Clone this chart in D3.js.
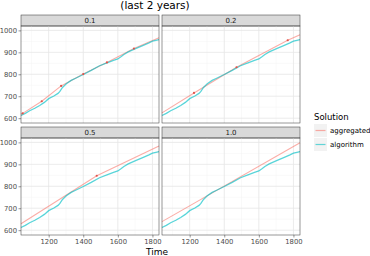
<!DOCTYPE html>
<html>
<head>
<meta charset="utf-8">
<script src="https://cdn.jsdelivr.net/npm/d3@7"></script>
<style>
  body { margin: 0; background: #fff; }
  text { font-family: "DejaVu Sans", sans-serif; }
</style>
</head>
<body>
<div id="chart"></div>
<script>
const facets = ["0.1", "0.2", "0.5", "1.0"];

// algorithm curve (same in every facet)
const algoTime  = [1040, 1065, 1090, 1120, 1148, 1175, 1200, 1230, 1254, 1265, 1280, 1302, 1330, 1356, 1400, 1446, 1494, 1537, 1575, 1600, 1618, 1635, 1660, 1706, 1754, 1780, 1800, 1820, 1838];
const algoValue = [612, 622, 634, 645, 658, 672, 689, 701, 713, 722, 740, 757, 772, 782, 799, 818, 839, 852, 863, 870, 880, 890, 902, 918, 934, 943, 951, 955, 958];

// aggregated lines per facet
const aggTime = {
  "0.1": [1040, 1050, 1160, 1272, 1400, 1537, 1693, 1838],
  "0.2": [1040, 1225, 1471, 1767, 1838],
  "0.5": [1040, 1478, 1838],
  "1.0": [1040, 1838]
};
const aggValue = {
  "0.1": [618, 622, 677, 747, 801, 854, 917, 966],
  "0.2": [624, 715, 832, 955, 980],
  "0.5": [629, 848, 983],
  "1.0": [639, 998]
};
// points shown on the aggregated lines
const dotTime = {
  "0.1": [1050, 1160, 1272, 1400, 1537, 1693],
  "0.2": [1225, 1471, 1767],
  "0.5": [1478],
  "1.0": []
};

const xTicks = [1200, 1400, 1600, 1800];
const xMinor = [1100, 1300, 1500, 1700];
const yTicks = [600, 700, 800, 900, 1000];
const yMinor = [650, 750, 850, 950];

const seriesNames = ["aggregated", "algorithm"];
const seriesColors = { aggregated: "#F8766D", algorithm: "#00BFC4" };

const width = 370, height = 256;
const panelW = 138, panelH = 97, stripH = 11;
const colX = [21, 162];
const rowY = [15, 127];

const svg = d3.select("#chart").append("svg")
  .attr("width", width)
  .attr("height", height);

svg.append("text")
  .attr("x", 155)
  .attr("y", 9)
  .attr("text-anchor", "middle")
  .style("font-size", "10.5px")
  .attr("fill", "#000")
  .text("(last 2 years)");

const x = d3.scaleLinear().domain([1040, 1838]).range([0, panelW]);
const y = d3.scaleLinear().domain([578, 1020]).range([panelH, 0]);

const line = d3.line().x(d => x(d[0])).y(d => y(d[1]));

facets.forEach((f, i) => {
  const col = i % 2, row = Math.floor(i / 2);
  const g = svg.append("g")
    .attr("transform", `translate(${colX[col]},${rowY[row]})`);

  // strip
  g.append("rect")
    .attr("width", panelW).attr("height", stripH)
    .attr("fill", "#D9D9D9")
    .attr("stroke", "#333").attr("stroke-width", 0.5);
  g.append("text")
    .attr("x", panelW / 2).attr("y", stripH / 2 + 2.5)
    .attr("text-anchor", "middle")
    .style("font-size", "7px")
    .attr("fill", "#1A1A1A")
    .text(f);

  const p = g.append("g").attr("transform", `translate(0,${stripH})`);

  // grid
  p.selectAll(".gx2").data(xMinor).enter().append("line")
    .attr("x1", d => x(d)).attr("x2", d => x(d))
    .attr("y1", 0).attr("y2", panelH)
    .attr("stroke", "#F3F3F3").attr("stroke-width", 0.5);
  p.selectAll(".gy2").data(yMinor).enter().append("line")
    .attr("y1", d => y(d)).attr("y2", d => y(d))
    .attr("x1", 0).attr("x2", panelW)
    .attr("stroke", "#F3F3F3").attr("stroke-width", 0.5);
  p.selectAll(".gx").data(xTicks).enter().append("line")
    .attr("x1", d => x(d)).attr("x2", d => x(d))
    .attr("y1", 0).attr("y2", panelH)
    .attr("stroke", "#E6E6E6").attr("stroke-width", 0.8);
  p.selectAll(".gy").data(yTicks).enter().append("line")
    .attr("y1", d => y(d)).attr("y2", d => y(d))
    .attr("x1", 0).attr("x2", panelW)
    .attr("stroke", "#E6E6E6").attr("stroke-width", 0.8);

  // lines
  const aggPts = d3.zip(aggTime[f], aggValue[f]);
  const algoPts = d3.zip(algoTime, algoValue);

  p.append("path").datum(aggPts)
    .attr("d", line)
    .attr("fill", "none")
    .attr("stroke", seriesColors.aggregated)
    .attr("stroke-opacity", 0.6)
    .attr("stroke-width", 1.1);

  p.append("path").datum(algoPts)
    .attr("d", line)
    .attr("fill", "none")
    .attr("stroke", seriesColors.algorithm)
    .attr("stroke-opacity", 0.65)
    .attr("stroke-width", 1.3);

  const interp = d3.scaleLinear().domain(aggTime[f]).range(aggValue[f]);
  p.selectAll(".dot").data(dotTime[f]).enter().append("circle")
    .attr("cx", d => x(d)).attr("cy", d => y(interp(d)))
    .attr("r", 1.1)
    .attr("fill", "#E0524A");

  // border
  p.append("rect")
    .attr("width", panelW).attr("height", panelH)
    .attr("fill", "none")
    .attr("stroke", "#333").attr("stroke-width", 0.5);

  // axes
  if (col === 0) {
    const ay = p.append("g")
      .call(d3.axisLeft(y).tickValues(yTicks).tickFormat(d3.format("d")).tickSize(2.5).tickPadding(1.5));
    ay.select(".domain").remove();
    ay.selectAll("line").attr("stroke", "#333").attr("stroke-width", 0.5);
    ay.selectAll("text").style("font-size", "6.8px").attr("fill", "#4D4D4D");
  }
  if (row === 1) {
    const ax = p.append("g")
      .attr("transform", `translate(0,${panelH})`)
      .call(d3.axisBottom(x).tickValues(xTicks).tickFormat(d3.format("d")).tickSize(2.5).tickPadding(1.5));
    ax.select(".domain").remove();
    ax.selectAll("line").attr("stroke", "#333").attr("stroke-width", 0.5);
    ax.selectAll("text").style("font-size", "6.8px").attr("fill", "#4D4D4D");
  }
});

svg.append("text")
  .attr("x", 157)
  .attr("y", 255)
  .attr("text-anchor", "middle")
  .style("font-size", "9px")
  .attr("fill", "#000")
  .text("Time");

// legend
const legend = svg.append("g").attr("transform", "translate(314,112)");
legend.append("text")
  .attr("x", 0).attr("y", 8)
  .style("font-size", "8.5px")
  .attr("fill", "#000")
  .text("Solution");

seriesNames.forEach((s, i) => {
  const r = legend.append("g").attr("transform", `translate(0,${12 + i * 14})`);
  r.append("rect")
    .attr("width", 13).attr("height", 13)
    .attr("fill", "#F2F2F2");
  r.append("line")
    .attr("x1", 1.5).attr("x2", 11.5)
    .attr("y1", 6.5).attr("y2", 6.5)
    .attr("stroke", seriesColors[s])
    .attr("stroke-opacity", 0.6)
    .attr("stroke-width", 1.2);
  r.append("text")
    .attr("x", 16).attr("y", 9)
    .style("font-size", "7px")
    .attr("fill", "#000")
    .text(s);
});
</script>
</body>
</html>
